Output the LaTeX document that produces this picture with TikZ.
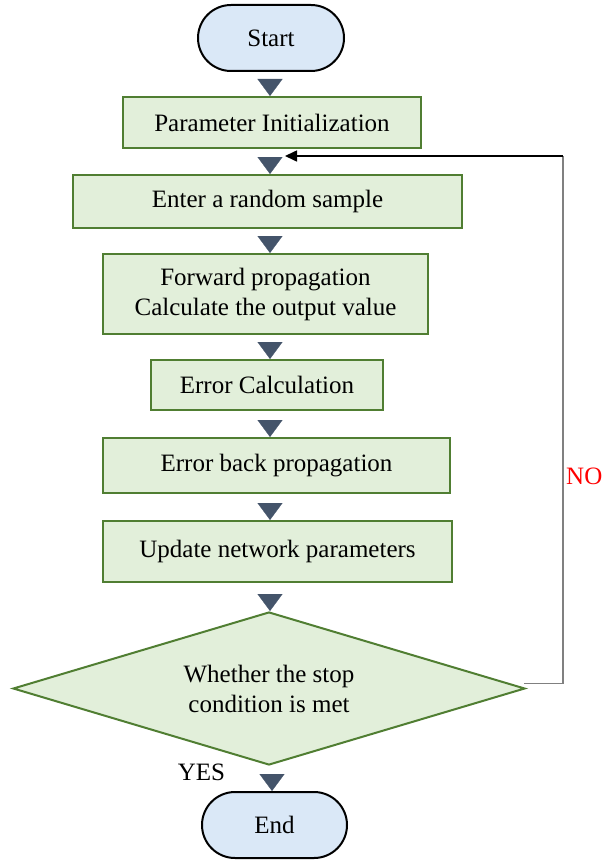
\documentclass[tikz,border=0pt]{standalone}
\usepackage{fontspec}
\setmainfont{Liberation Serif}
\usetikzlibrary{shapes.geometric,arrows.meta,calc}
\definecolor{boxfill}{HTML}{E2EFDA}
\definecolor{boxline}{HTML}{507E32}
\definecolor{termfill}{HTML}{DAE8F7}
\definecolor{tricol}{HTML}{44546A}
\definecolor{fbgray}{HTML}{808080}
\begin{document}
\begin{tikzpicture}[x=1pt,y=-1pt,
  every node/.style={font=\fontsize{25}{30}\selectfont},
  procbox/.style={draw=boxline, fill=boxfill, line width=2pt, align=center, inner sep=0pt},
  termbox/.style={draw=black, fill=termfill, line width=2pt, rounded corners=33pt,
    minimum width=146pt, minimum height=66pt, inner sep=0pt},
  decision/.style={diamond, draw=boxline, fill=boxfill, line width=2pt, align=center,
    inner sep=0pt, aspect=3.35, minimum width=512pt, minimum height=153pt},
  flow/.style={draw=white, line width=0.2pt, -{Triangle[length=17pt,width=25pt,color=tricol,fill=tricol]}},
  fbline/.style={draw=fbgray, line width=1.6pt},
  fbarrow/.style={draw=black, line width=1.6pt, -{Triangle[length=12pt,width=11pt]}}
]
\useasboundingbox (0,0) rectangle (603,864);

\coordinate (axis) at (270,0);

\node[termbox] (start) at (271,38) {Start};
\node[procbox, minimum width=298pt, minimum height=51pt] (param) at (272,122.5) {Parameter Initialization};
\node[procbox, minimum width=389pt, minimum height=53pt] (enter) at (267.5,201.5) {Enter a random sample};
\node[procbox, minimum width=325pt, minimum height=80pt] (fwd) at (265.5,294) {Forward propagation\\Calculate the output value};
\node[procbox, minimum width=232pt, minimum height=50pt] (ecalc) at (267,385) {Error Calculation};
\node[procbox, minimum width=347pt, minimum height=55pt] (eback) at (276.5,465.5) {Error back propagation};
\node[procbox, minimum width=349pt, minimum height=61pt] (update) at (277.5,551.5) {Update network parameters};
\node[decision] (dia) at (269,688.5) {Whether the stop\\condition is met};
\node[termbox, minimum width=145pt] (end) at (274.5,825) {End};

\draw[flow] (axis |- start.south) -- (axis |- param.north);
\draw[flow] (axis |- param.south) -- (axis |- enter.north);
\draw[flow] (axis |- enter.south) -- (axis |- fwd.north);
\draw[flow] (axis |- fwd.south) -- (axis |- ecalc.north);
\draw[flow] (axis |- ecalc.south) -- (axis |- eback.north);
\draw[flow] (axis |- eback.south) -- (axis |- update.north);
\draw[flow] (axis |- update.south) -- (axis |- dia.north);
\draw[flow] ([xshift=2pt]axis |- dia.south) -- ([xshift=2pt]axis |- end.north);

\coordinate (fbstart) at ([xshift=-2pt,yshift=5pt]dia.east);
\coordinate (fbtop) at (563,156);
\coordinate (fbtip) at (285,156);
\draw[fbline] (fbstart) -| (fbtop);
\draw[fbarrow] (fbtop) -- (fbtip);

\node[text=red, anchor=west, inner sep=3pt] (no) at (563,476) {NO};
\node[inner sep=0pt] (yes) at (201.5,772) {YES};
\end{tikzpicture}
\end{document}
